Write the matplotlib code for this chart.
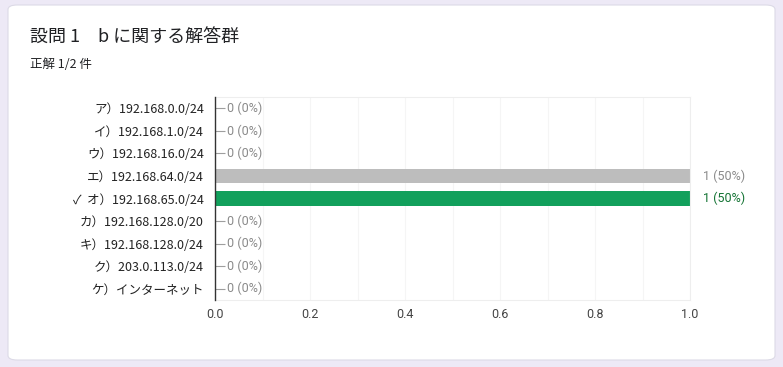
import numpy as np
import matplotlib.pyplot as plt
from matplotlib.patches import FancyBboxPatch

plt.rcParams['font.family'] = ['Noto Sans CJK JP', 'DejaVu Sans']

labels = ['ア）192.168.0.0/24', 'イ）192.168.1.0/24', 'ウ）192.168.16.0/24',
          'エ）192.168.64.0/24', '✓  オ）192.168.65.0/24', 'カ）192.168.128.0/20',
          'キ）192.168.128.0/24', 'ク）203.0.113.0/24', 'ケ）インターネット']
counts = [0, 0, 0, 1, 1, 0, 0, 0, 0]
percents = [0, 0, 0, 50, 50, 0, 0, 0, 0]
correct = [False, False, False, False, True, False, False, False, False]

fig = plt.figure(figsize=(7.83, 3.67), dpi=100)
fig.patch.set_facecolor('#ede9f6')

# card
card = FancyBboxPatch((8 / 783, 1 - 360 / 367), 767 / 783, 355 / 367,
                      boxstyle='round,pad=0,rounding_size=0.012',
                      transform=fig.transFigure, facecolor='white',
                      edgecolor='#dcdae6', linewidth=0.8, zorder=0)
fig.patches.append(card)

fig.text(30 / 783, 1 - 38 / 367, '設問 1　b に関する解答群', fontsize=13,
         color='#202124', va='center', ha='left', zorder=3)
fig.text(30 / 783, 1 - 64 / 367, '正解 1/2 件', fontsize=9,
         color='#202124', va='center', ha='left', zorder=3)

ax = fig.add_axes([215 / 783, 1 - 300 / 367, 475 / 783, 203 / 367])
ax.set_zorder(2)
ax.set_facecolor('none')

y = np.arange(len(labels))
vals = np.array(counts, dtype=float)
colors = ['#12a05c' if c else '#bdbdbd' for c in correct]
ax.barh(y, vals, height=0.66, color=colors, zorder=2)

for i, (v, p, c) in enumerate(zip(counts, percents, correct)):
    if v == 0:
        ax.plot([0, 0.022], [i, i], color='#9e9e9e', lw=0.8, zorder=3,
                solid_capstyle='butt')
        ax.text(0.025, i, f'{v} ({p}%)', va='center', ha='left',
                fontsize=9, color='#8a8a8a', family='Roboto')
    else:
        ax.text(v + 0.027, i, f'{v} ({p}%)', va='center', ha='left',
                fontsize=9, color='#137333' if c else '#8a8a8a',
                family='Roboto', clip_on=False)

ax.set_xlim(0, 1)
ax.set_ylim(len(labels) - 0.5, -0.5)
ax.set_yticks(y)
ax.set_yticklabels(labels, fontsize=9, color='#222222')
ax.tick_params(axis='y', length=0, pad=8)
ax.set_xticks(np.arange(0, 1.01, 0.2))
ax.set_xticks(np.arange(0, 1.01, 0.1), minor=True)
ax.tick_params(axis='x', which='both', length=0, labelsize=9,
               labelcolor='#444444', pad=6)
for lab in ax.get_xticklabels():
    lab.set_family('Roboto')
ax.grid(axis='x', which='both', color='#f5f5f5', lw=0.8, zorder=0)

for s in ['top', 'right', 'bottom']:
    ax.spines[s].set_color('#eeeeee')
    ax.spines[s].set_linewidth(0.8)
ax.spines['left'].set_color('#333333')
ax.spines['left'].set_linewidth(1.0)
ax.spines['left'].set_zorder(4)

fig.savefig('out.png', dpi=100, facecolor=fig.get_facecolor())
